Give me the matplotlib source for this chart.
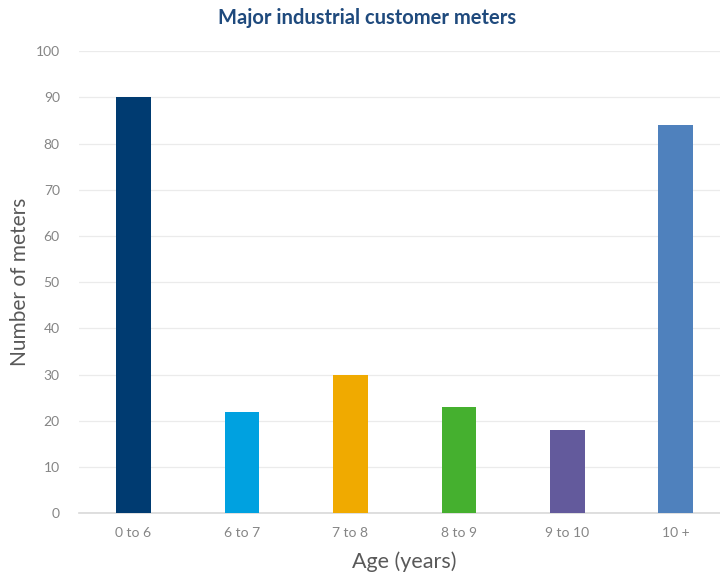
import matplotlib
matplotlib.use("Agg")
import matplotlib.pyplot as plt

age_groups = ["0 to 6", "6 to 7", "7 to 8", "8 to 9", "9 to 10", "10 +"]
meters = [90, 22, 30, 23, 18, 84]
bar_colors = ["#003b71", "#00a1e0", "#f0aa00", "#45b02f", "#635a9c", "#4f81bd"]

plt.rcParams["font.family"] = ["Lato", "DejaVu Sans"]

fig = plt.figure(figsize=(7.2, 5.76), dpi=100)
ax = fig.add_axes([0.11, 0.109, 0.904, 0.802])

x = list(range(len(age_groups)))
ax.bar(x, meters, width=0.32, color=bar_colors, zorder=3)

ax.set_xlim(-0.5, len(age_groups) - 0.5)
ax.set_ylim(0, 100)
ax.set_yticks(range(0, 101, 10))
ax.set_xticks(x)
ax.set_xticklabels(age_groups)
ax.tick_params(axis="both", length=0, labelsize=10, colors="#858585")
ax.tick_params(axis="x", pad=10)
ax.tick_params(axis="y", pad=14)

ax.grid(axis="y", color="#ebebeb", linewidth=0.9, zorder=0)
for side in ["top", "right", "left"]:
    ax.spines[side].set_visible(False)
ax.spines["bottom"].set_color("#d9d9d9")
ax.spines["bottom"].set_linewidth(1.2)

ax.set_ylabel("Number of meters", fontsize=15, color="#595959")
ax.yaxis.set_label_coords(-0.075, 0.5)
ax.set_xlabel("Age (years)", fontsize=15.5, color="#595959")
ax.xaxis.set_label_coords(0.5, -0.083)
fig.text(0.51, 0.968, "Major industrial customer meters", fontsize=14.5,
         fontweight="bold", color="#1f4a7d", ha="center", va="center")

fig.savefig("out.png", dpi=100)
